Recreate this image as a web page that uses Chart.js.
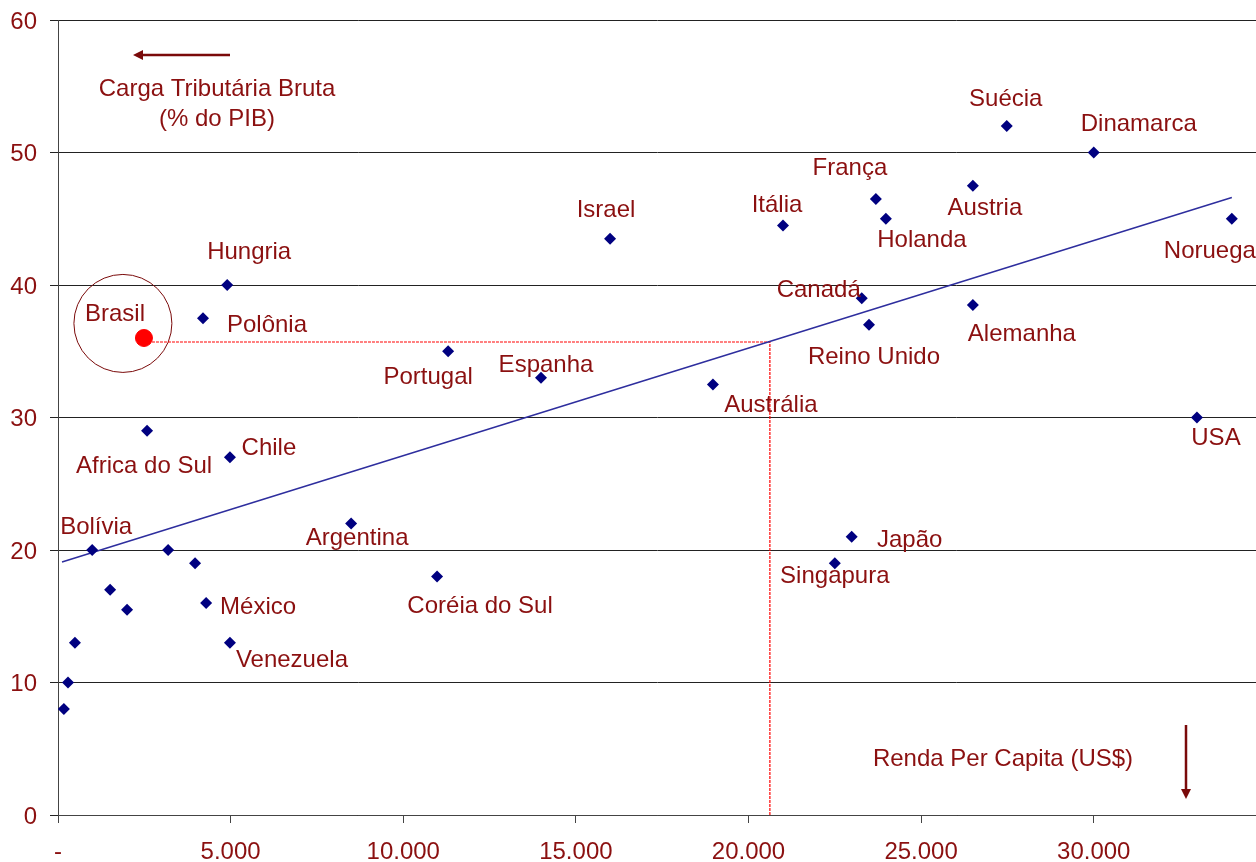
<!DOCTYPE html>
<html>
<head>
<meta charset="utf-8">
<script src="https://cdn.jsdelivr.net/npm/chart.js@4/dist/chart.umd.min.js"></script>
<style>
  body { margin: 0; background: #fff; }
  #wrap { width: 1256px; height: 862px; position: relative; }
</style>
</head>
<body>
<div id="wrap"><canvas id="taxChart"></canvas></div>
<script>
// Country data: per capita income (US$) vs gross tax burden (% of GDP)
const countryNames = ["Hungria", "Polônia", "Africa do Sul", "Chile", "Bolívia", "", "", "México", "Venezuela",
    "", "", "", "", "", "Argentina", "Coréia do Sul", "Portugal", "Espanha", "Israel", "Austrália", "Itália",
    "Canadá", "Reino Unido", "França", "Holanda", "Japão", "Singapura", "Austria", "Alemanha", "Suécia",
    "Dinamarca", "Noruega", "USA"];
const rendaPerCapita = [4900, 4200, 2580, 4980, 990, 3190, 3970, 4290, 4980,
    1510, 2000, 490, 290, 170, 8490, 10980, 11300, 13990, 15990, 18970, 21000,
    23280, 23490, 23690, 23980, 22990, 22500, 26500, 26500, 27480,
    30000, 34000, 32990];
const cargaTributaria = [40, 37.5, 29, 27, 20, 20, 19, 16, 13,
    17, 15.5, 13, 10, 8, 22, 18, 35, 33, 43.5, 32.5, 44.5,
    39, 37, 46.5, 45, 21, 19, 47.5, 38.5, 52,
    50, 45, 30];

const brasilRenda = 2490;
const brasilCarga = 36;

// trend line end points
const trendRenda = [116, 34000];
const trendCarga = [19.1, 46.6];

// guide lines from Brasil to the trend line and down to the axis
const guideRenda = [2490, 20620, 20620];
const guideCarga = [35.7, 35.7, 0];

const xTicks = [0, 5000, 10000, 15000, 20000, 25000, 30000];
const yTicks = [0, 10, 20, 30, 40, 50, 60];

// label offsets (pixels) from each point, same order as countryNames
const labelOffsets = [[22, -35], [64, 5], [-3, 34], [39, -11], [4, -25], [0, 0], [0, 0], [52, 2], [62, 16],
    [0, 0], [0, 0], [0, 0], [0, 0], [0, 0], [6, 13], [43, 28], [-20, 24], [5, -14], [-4, -30], [58, 19], [-6, -22],
    [-43, -10], [5, 31], [-26, -33], [36, 20], [58, 2], [0, 11], [12, 21], [49, 27], [-1, -29],
    [45, -30], [-22, 31], [19, 19]];

const textColor = "#8B1010";
const fontFamily = "'Liberation Sans', Arial, sans-serif";

function fmtThousands(v) {
    if (v === 0) return "-";
    return String(v).replace(/\B(?=(\d{3})+(?!\d))/g, ".");
}

// draws country names and the free annotations
const annotations = {
    id: "annotations",
    afterDatasetsDraw(chart) {
        const ctx = chart.ctx;
        const meta = chart.getDatasetMeta(1);
        ctx.save();
        ctx.fillStyle = textColor;
        ctx.font = "24px " + fontFamily;
        ctx.textAlign = "center";
        ctx.textBaseline = "middle";
        meta.data.forEach((pt, i) => {
            if (!countryNames[i]) return;
            ctx.fillText(countryNames[i], pt.x + labelOffsets[i][0], pt.y + labelOffsets[i][1] + 2);
        });
        // Brasil label
        const b = chart.getDatasetMeta(0).data[0];
        ctx.fillText("Brasil", b.x - 29, b.y - 24);

        // axis notes
        ctx.fillText("Carga Tributária Bruta", 217, 89);
        ctx.fillText("(% do PIB)", 217, 119);
        ctx.fillText("Renda Per Capita (US$)", 1003, 759);

        // arrows
        ctx.strokeStyle = "#7a0a0a";
        ctx.fillStyle = "#7a0a0a";
        ctx.lineWidth = 2.5;
        ctx.beginPath();
        ctx.moveTo(230, 55);
        ctx.lineTo(140, 55);
        ctx.stroke();
        ctx.beginPath();
        ctx.moveTo(133, 55);
        ctx.lineTo(143, 50);
        ctx.lineTo(143, 60);
        ctx.closePath();
        ctx.fill();

        ctx.beginPath();
        ctx.moveTo(1186, 725);
        ctx.lineTo(1186, 790);
        ctx.stroke();
        ctx.beginPath();
        ctx.moveTo(1186, 799);
        ctx.lineTo(1181, 789);
        ctx.lineTo(1191, 789);
        ctx.closePath();
        ctx.fill();
        ctx.restore();
    }
};

const ctx = document.getElementById("taxChart").getContext("2d");
window.taxChart = new Chart(ctx, {
    type: "scatter",
    data: {
        datasets: [
            {
                label: "Brasil",
                data: [{ x: brasilRenda, y: brasilCarga }],
                backgroundColor: "#FF0000",
                borderColor: "#FF0000",
                pointRadius: 8.5,
                pointStyle: "circle",
            },
            {
                label: "Países",
                data: rendaPerCapita.map((r, i) => ({ x: r, y: cargaTributaria[i] })),
                backgroundColor: "#000080",
                borderColor: "#000080",
                pointStyle: "rectRot",
                pointRadius: 6,
                borderWidth: 0,
            },
            {
                label: "Tendência",
                data: trendRenda.map((r, i) => ({ x: r, y: trendCarga[i] })),
                showLine: true,
                borderColor: "#2E2E9E",
                borderWidth: 1.5,
                pointRadius: 0,
            },
            {
                label: "Guia",
                data: guideRenda.map((r, i) => ({ x: r, y: guideCarga[i] })),
                showLine: true,
                borderColor: "#FF0000",
                borderWidth: 1.2,
                borderDash: [3, 1],
                pointRadius: 0,
            },
            {
                label: "Destaque",
                data: [{ x: 1880, y: 37.1 }],
                backgroundColor: "rgba(0,0,0,0)",
                borderColor: "#7a0a0a",
                borderWidth: 1,
                pointRadius: 49,
                pointStyle: "circle",
            },
        ],
    },
    options: {
        responsive: true,
        maintainAspectRatio: false,
        animation: false,
        layout: { autoPadding: false, padding: { top: 20, right: 0, left: 0, bottom: 0 } },
        plugins: {
            legend: { display: false },
            tooltip: { enabled: false },
        },
        scales: {
            x: {
                type: "linear",
                min: 0,
                max: 34700,
                afterBuildTicks: (axis) => { axis.ticks = xTicks.map((v) => ({ value: v })); },
                afterFit: (axis) => { axis.height = 47; axis.paddingLeft = 0; axis.paddingRight = 0; },
                ticks: {
                    callback: (v) => fmtThousands(v),
                    color: textColor,
                    font: { size: 24, family: fontFamily },
                    padding: 15,
                    maxRotation: 0,
                },
                grid: {
                    drawOnChartArea: false,
                    drawTicks: true,
                    tickLength: 8,
                    color: "#444",
                },
                border: { display: true, color: "#444", width: 1 },
            },
            y: {
                min: 0,
                max: 60,
                afterBuildTicks: (axis) => { axis.ticks = yTicks.map((v) => ({ value: v })); },
                afterFit: (axis) => { axis.width = 58; axis.paddingTop = 0; axis.paddingBottom = 0; },
                ticks: {
                    color: textColor,
                    font: { size: 24, family: fontFamily },
                    padding: 13,
                    labelOffset: 2,
                },
                grid: {
                    color: "#222",
                    tickLength: 8,
                },
                border: { display: true, color: "#444", width: 1 },
            },
        },
    },
    plugins: [annotations],
});
</script>
</body>
</html>
